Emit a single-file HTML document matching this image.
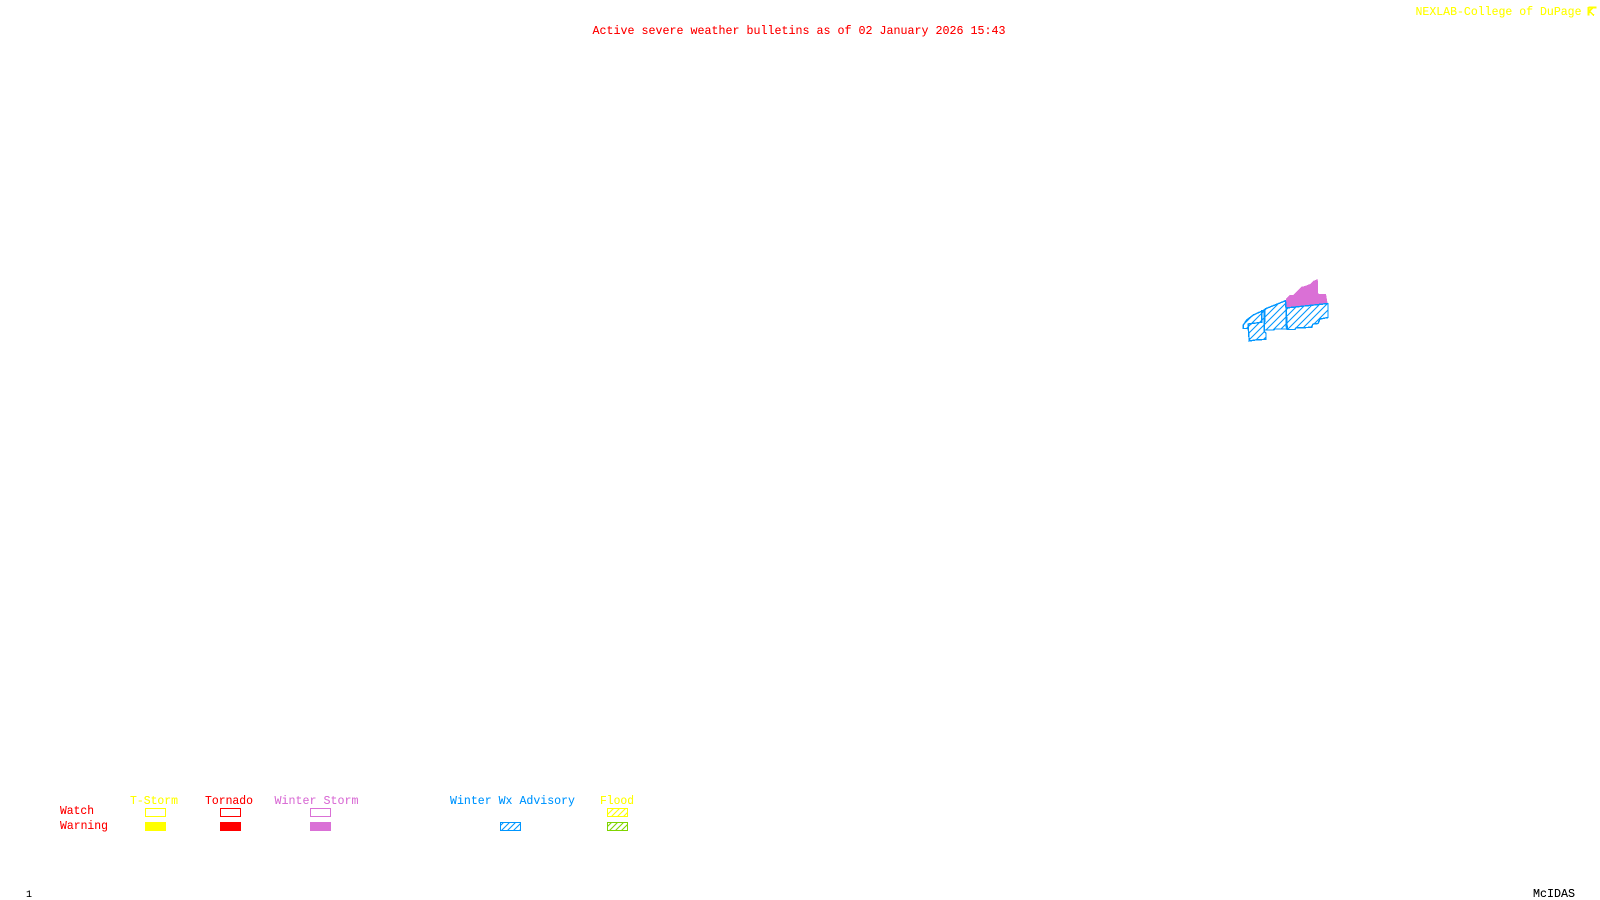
<!DOCTYPE html>
<html><head><meta charset="utf-8"><style>
html,body{margin:0;padding:0;background:#fff;width:1600px;height:900px;overflow:hidden}
svg{display:block}
text{font-family:"Liberation Mono","DejaVu Sans Mono",monospace;font-size:12px}
</style></head><body>
<svg width="1600" height="900" viewBox="0 0 1600 900" xmlns="http://www.w3.org/2000/svg">
<defs>
<filter id="px" x="-5%" y="-50%" width="110%" height="200%" color-interpolation-filters="sRGB"><feComponentTransfer><feFuncA type="linear" slope="1.25"/></feComponentTransfer></filter>
<pattern id="hb" patternUnits="userSpaceOnUse" width="7" height="7"><path d="M-1 8L8 -1M-1 1L1 -1M6 8L8 6" stroke="#0096ff" stroke-width="1.1" fill="none"/></pattern>
<pattern id="hl" patternUnits="userSpaceOnUse" width="6" height="6"><path d="M-1 7L7 -1M-1 1L1 -1M5 7L7 5" stroke="#0096ff" stroke-width="1.1" fill="none"/></pattern>
<pattern id="hy" patternUnits="userSpaceOnUse" width="6" height="6"><path d="M-1 7L7 -1M-1 1L1 -1M5 7L7 5" stroke="#ffff00" stroke-width="1.1" fill="none"/></pattern>
<pattern id="hg" patternUnits="userSpaceOnUse" width="6" height="6"><path d="M-1 7L7 -1M-1 1L1 -1M5 7L7 5" stroke="#7fd400" stroke-width="1.1" fill="none"/></pattern>
</defs>
<rect width="1600" height="900" fill="#fff"/>
<g filter="url(#px)">
<text x="592.5" y="34" fill="#f00" textLength="413" lengthAdjust="spacingAndGlyphs">Active severe weather bulletins as of 02 January 2026 15:43</text>
<text x="1415.5" y="15" fill="#ff0" textLength="166" lengthAdjust="spacingAndGlyphs">NEXLAB-College of DuPage</text>
<text x="130" y="804" fill="#ff0" textLength="48" lengthAdjust="spacingAndGlyphs">T-Storm</text>
<text x="205" y="804" fill="#f00" textLength="48" lengthAdjust="spacingAndGlyphs">Tornado</text>
<text x="274.5" y="804" fill="#da70d6" textLength="84" lengthAdjust="spacingAndGlyphs">Winter Storm</text>
<text x="450" y="804" fill="#0096ff" textLength="125" lengthAdjust="spacingAndGlyphs">Winter Wx Advisory</text>
<text x="600" y="804" fill="#ff0" textLength="34" lengthAdjust="spacingAndGlyphs">Flood</text>
<text x="60" y="814" fill="#f00" textLength="34" lengthAdjust="spacingAndGlyphs">Watch</text>
<text x="60" y="829" fill="#f00" textLength="48" lengthAdjust="spacingAndGlyphs">Warning</text>
<text x="26" y="897" fill="#000" style="font-size:10px" textLength="7">1</text>
<text x="1533" y="897" fill="#000" textLength="42" lengthAdjust="spacingAndGlyphs">McIDAS</text>
</g>
<g shape-rendering="crispEdges">
<path d="M1588.5 7.5H1596.5M1588.5 7V15.5M1589 11.5L1593 7.5M1589 11L1594 15.5" stroke="#ff0" stroke-width="1.6" fill="none"/>
<rect x="145.5" y="808.5" width="20" height="8" fill="none" stroke="#ff0"/>
<rect x="145" y="822" width="21" height="9" fill="#ff0"/>
<rect x="220.5" y="808.5" width="20" height="8" fill="none" stroke="#f00"/>
<rect x="220" y="822" width="21" height="9" fill="#f00"/>
<rect x="310.5" y="808.5" width="20" height="8" fill="none" stroke="#da70d6"/>
<rect x="310" y="822" width="21" height="9" fill="#da70d6"/>
<rect x="500.5" y="822.5" width="20" height="8" fill="url(#hl)" stroke="#0096ff"/>
<rect x="607.5" y="808.5" width="20" height="8" fill="url(#hy)" stroke="#ff0"/>
<rect x="607.5" y="822.5" width="20" height="8" fill="url(#hg)" stroke="#7fd400"/>
<path d="M1286 298.5L1290 295L1293 295L1296.7 291.7L1301.7 286.7L1305 286L1310 284L1313 281L1317.7 279L1318.3 294L1326 294L1327.5 303L1286 308Z" fill="#da70d6"/>
<g stroke="#0096ff" stroke-width="1.4" fill="url(#hb)" stroke-linejoin="miter">
<path d="M1286 308L1328 303.5L1328 317.5L1320 319L1318 323.5L1313 324L1311.7 327.3L1295.7 328L1295 329.5L1287.3 329.5Z"/>
<path d="M1285.5 300.7L1265 309L1264.3 330L1274 330L1275 329L1286.5 329L1286 308Z"/>
<path d="M1264.3 310L1253.3 315L1246.7 320L1243.3 325L1243.3 328.5L1248.3 328.5L1249.3 341L1255 340L1266 339.3L1266 333.3L1264.3 331.7Z"/>
<path d="M1248.3 328.5L1248.3 324L1256 323L1261.7 322.3L1261.7 310" fill="none"/>
</g>
</g>
</svg>
</body></html>
